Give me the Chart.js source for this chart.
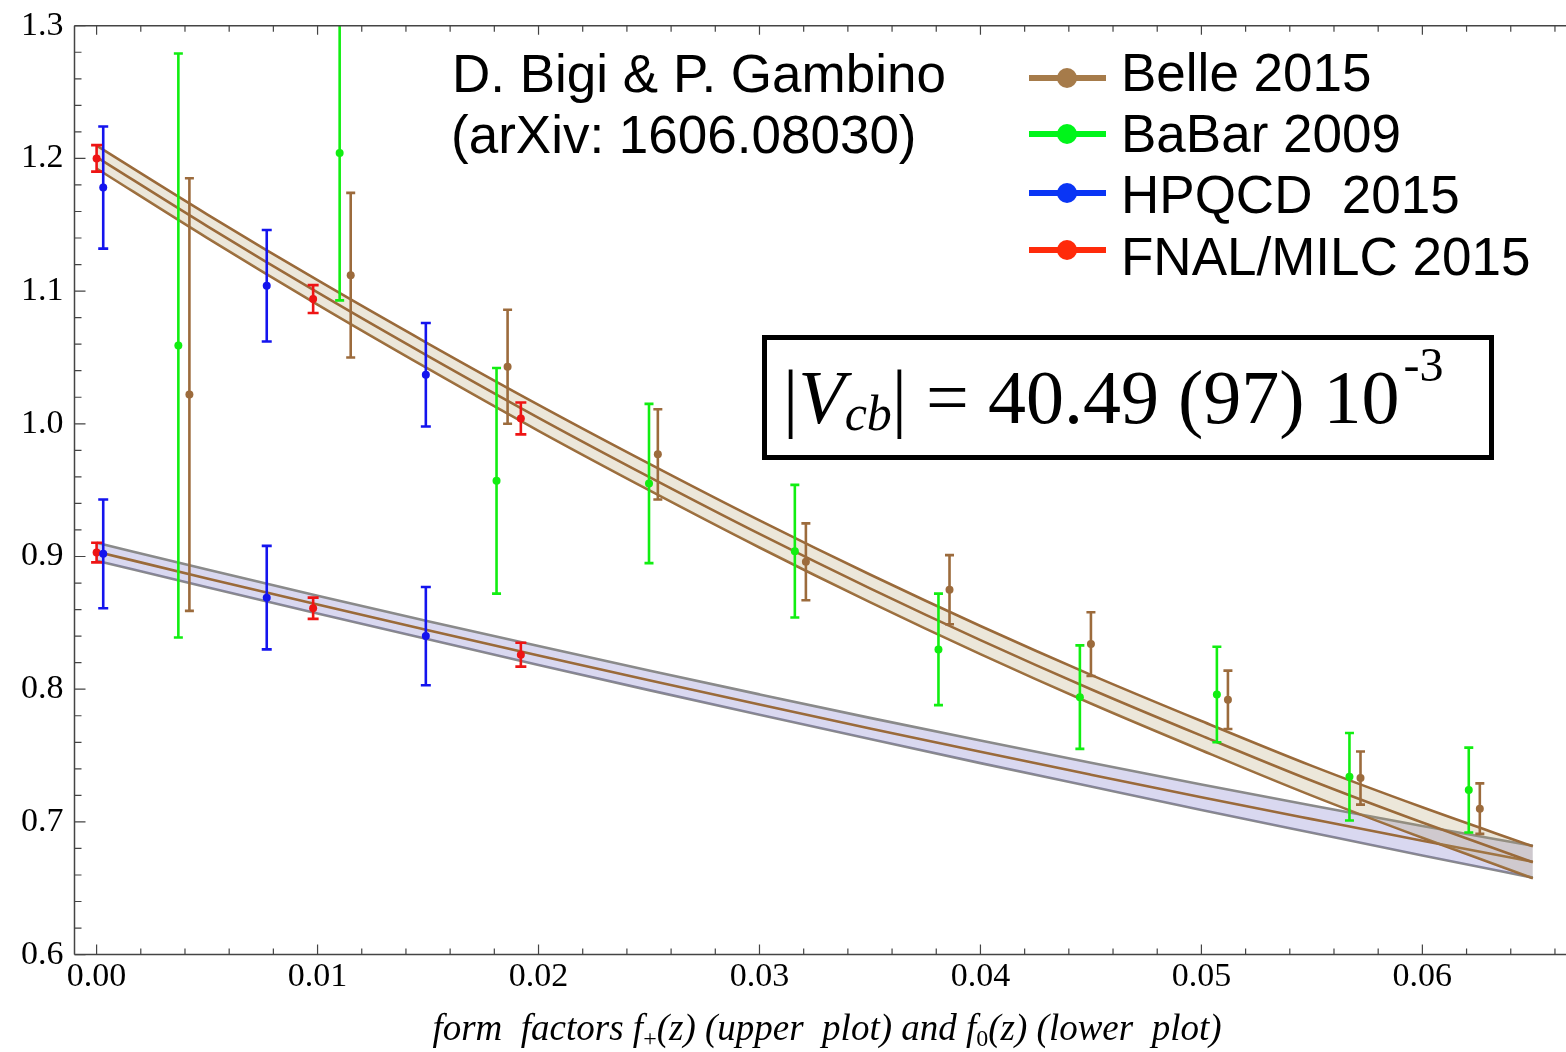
<!DOCTYPE html>
<html>
<head>
<meta charset="utf-8">
<script src="https://cdn.jsdelivr.net/npm/chart.js@4.4.1/dist/chart.umd.min.js"></script>
<style>
  html, body { margin: 0; padding: 0; background: #fff; }
  canvas { display: block; }
</style>
</head>
<body>
<canvas id="chart" width="1566" height="1052"></canvas>
<script>
// fit bands at z = 0 ... 0.065
const bandZ = [0, 0.005, 0.01, 0.015, 0.02, 0.025, 0.03, 0.035, 0.04, 0.045, 0.05, 0.055, 0.06, 0.065];
const fPlusMid = [1.201, 1.149, 1.099, 1.051, 1.0045, 0.960, 0.917, 0.876, 0.837, 0.800, 0.765, 0.731, 0.6995, 0.6696];
const fPlusHi  = [1.2096, 1.1579, 1.1082, 1.0605, 1.0143, 0.9700, 0.9272, 0.8864, 0.8476, 0.8108, 0.7760, 0.7422, 0.7110, 0.6816];
const fPlusLo  = [1.1924, 1.1401, 1.0898, 1.0415, 0.9947, 0.9500, 0.9068, 0.8656, 0.8264, 0.7892, 0.7540, 0.7198, 0.6880, 0.6576];
const fZeroMid = [0.9036, 0.8835, 0.8638, 0.8444, 0.8254, 0.8067, 0.7884, 0.7704, 0.7528, 0.7356, 0.7186, 0.7021, 0.6858, 0.6700];
const fZeroHi  = [0.9104, 0.8902, 0.8705, 0.8512, 0.8325, 0.8141, 0.7961, 0.7784, 0.7613, 0.7446, 0.7282, 0.7124, 0.6969, 0.6820];
const fZeroLo  = [0.8968, 0.8768, 0.8571, 0.8376, 0.8183, 0.7993, 0.7807, 0.7624, 0.7443, 0.7266, 0.7090, 0.6918, 0.6747, 0.6580];

// experimental / lattice points
const belleZ   = [0.0042, 0.0115, 0.0186, 0.0254, 0.0321, 0.0386, 0.0450, 0.0512, 0.0572, 0.0626];
const belleF   = [1.022, 1.112, 1.043, 0.977, 0.896, 0.875, 0.834, 0.792, 0.733, 0.710];
const belleErr = [0.163, 0.062, 0.043, 0.034, 0.029, 0.026, 0.024, 0.022, 0.020, 0.019];

const babarZ   = [0.0037, 0.0110, 0.0181, 0.0250, 0.0316, 0.0381, 0.0445, 0.0507, 0.0567, 0.0621];
const babarF   = [1.059, 1.204, 0.957, 0.955, 0.904, 0.830, 0.794, 0.796, 0.734, 0.724];
const babarErr = [0.220, 0.111, 0.085, 0.060, 0.050, 0.042, 0.039, 0.036, 0.033, 0.032];

const hpqcdZ       = [0.0003, 0.0077, 0.0149];
const hpqcdPlus    = [1.178, 1.104, 1.037];
const hpqcdPlusErr = [0.046, 0.042, 0.039];
const hpqcdZero    = [0.902, 0.869, 0.840];
const hpqcdZeroErr = [0.041, 0.039, 0.037];

const fnalZ       = [0.0000, 0.0098, 0.0192];
const fnalPlus    = [1.200, 1.094, 1.004];
const fnalPlusErr = [0.010, 0.0105, 0.012];
const fnalZero    = [0.903, 0.861, 0.826];
const fnalZeroErr = [0.0074, 0.008, 0.009];

const xTicks = [0, 0.01, 0.02, 0.03, 0.04, 0.05, 0.06];
const yTicks = [0.6, 0.7, 0.8, 0.9, 1.0, 1.1, 1.2, 1.3];

const legendLabels = ['Belle 2015', 'BaBar 2009', 'HPQCD  2015', 'FNAL/MILC 2015'];
const legendColors = ['#a67b4a', '#00f51a', '#0a35f5', '#ff2a0a'];

const BROWN = '#9a6a3a';
const GRAY = '#8a8a8a';
const SERIF = '"Liberation Serif", "Times New Roman", serif';
const SANS = '"Liberation Sans", Arial, sans-serif';

function pts(xs, ys) { return xs.map((x, i) => ({ x: x, y: ys[i] })); }

function bandLine(label, ys, color, order, fill, bg) {
  return {
    label: label, data: pts(bandZ, ys), showLine: true, pointRadius: 0,
    borderColor: color, borderWidth: 2.6, order: order,
    fill: fill || false, backgroundColor: bg || 'transparent',
    cubicInterpolationMode: 'monotone'
  };
}

function pointSet(label, xs, ys, errs, color, cap) {
  return {
    label: label, data: pts(xs, ys), yErr: errs, errCap: cap,
    showLine: false, pointRadius: 4, pointHoverRadius: 4,
    backgroundColor: color, borderColor: color, borderWidth: 0, order: 1
  };
}

// error bars, clipped to the plot frame
const errorBars = {
  id: 'errorBars',
  afterDatasetsDraw(chart) {
    const ctx = chart.ctx, a = chart.chartArea, ys = chart.scales.y;
    ctx.save();
    ctx.beginPath();
    ctx.rect(a.left, a.top, a.right - a.left, a.bottom - a.top);
    ctx.clip();
    chart.data.datasets.forEach((ds, i) => {
      if (!ds.yErr) return;
      const meta = chart.getDatasetMeta(i);
      ctx.strokeStyle = ds.borderColor;
      ctx.lineWidth = 2.6;
      meta.data.forEach((el, j) => {
        const v = ds.data[j].y, e = ds.yErr[j];
        const t = ys.getPixelForValue(v + e), b = ys.getPixelForValue(v - e);
        const w = ds.errCap;
        ctx.beginPath();
        ctx.moveTo(el.x, t); ctx.lineTo(el.x, b);
        ctx.moveTo(el.x - w, t); ctx.lineTo(el.x + w, t);
        ctx.moveTo(el.x - w, b); ctx.lineTo(el.x + w, b);
        ctx.stroke();
      });
    });
    ctx.restore();
  }
};

// frame with inward ticks, legend and labels
const decorations = {
  id: 'decorations',
  afterDraw(chart) {
    const ctx = chart.ctx, a = chart.chartArea;
    const xs = chart.scales.x, ys = chart.scales.y;
    ctx.save();
    ctx.strokeStyle = '#444';
    ctx.lineWidth = 1.5;
    ctx.beginPath();
    ctx.moveTo(a.left, a.top); ctx.lineTo(a.right, a.top);
    ctx.moveTo(a.left, a.top); ctx.lineTo(a.left, a.bottom);
    ctx.moveTo(a.left, a.bottom); ctx.lineTo(a.right, a.bottom);
    ctx.stroke();

    ctx.lineWidth = 1.2;
    ctx.beginPath();
    for (let k = 0; k <= 33; k++) {
      const z = k * 0.002;
      const px = xs.getPixelForValue(z);
      if (px > a.right) break;
      const major = k % 5 === 0;
      const lb = major ? 10 : 6, lt = major ? 9 : 6;
      ctx.moveTo(px, a.bottom); ctx.lineTo(px, a.bottom - lb);
      ctx.moveTo(px, a.top); ctx.lineTo(px, a.top + lt);
    }
    for (let k = 0; k <= 35; k++) {
      const v = 0.6 + k * 0.02;
      const py = ys.getPixelForValue(v);
      const major = k % 5 === 0;
      ctx.moveTo(a.left, py); ctx.lineTo(a.left + (major ? 11 : 7), py);
    }
    ctx.stroke();

    // x axis title with upright subscripts
    const segs = [
      ['form  factors ', 0], ['f', 0], ['+', 1], ['(z) (upper  plot) and ', 0],
      ['f', 0], ['0', 1], ['(z) (lower  plot)', 0]
    ];
    const fontMain = 'italic 37px ' + SERIF, fontSub = '24px ' + SERIF;
    let total = 0;
    segs.forEach(s => { ctx.font = s[1] ? fontSub : fontMain; total += ctx.measureText(s[0]).width; });
    let cx = 827 - total / 2;
    ctx.fillStyle = '#000';
    ctx.textBaseline = 'alphabetic';
    segs.forEach(s => {
      ctx.font = s[1] ? fontSub : fontMain;
      ctx.fillText(s[0], cx, 1040 + (s[1] ? 6 : 0));
      cx += ctx.measureText(s[0]).width;
    });

    // authors
    ctx.font = '53px ' + SANS;
    ctx.fillText('D. Bigi & P. Gambino', 452, 92);
    ctx.fillText('(arXiv: 1606.08030)', 451, 153);

    // legend
    const markY = [78, 134, 193, 250], textY = [91, 152, 213, 275];
    legendLabels.forEach((lab, i) => {
      ctx.strokeStyle = legendColors[i];
      ctx.lineWidth = 6;
      ctx.beginPath();
      ctx.moveTo(1029, markY[i]); ctx.lineTo(1106, markY[i]);
      ctx.stroke();
      ctx.fillStyle = legendColors[i];
      ctx.beginPath();
      ctx.arc(1067, markY[i], 10, 0, Math.PI * 2);
      ctx.fill();
      ctx.fillStyle = '#000';
      ctx.font = '53px ' + SANS;
      ctx.fillText(lab, 1121, textY[i]);
    });

    // |Vcb| box
    ctx.strokeStyle = '#000';
    ctx.lineWidth = 5;
    ctx.strokeRect(764.5, 337.5, 727, 120);
    const base = 423;
    const parts = [
      ['|', '76px ' + SERIF, 0, 0], ['V', 'italic 76px ' + SERIF, 0, 0],
      ['cb', 'italic 50px ' + SERIF, 7, 0], ['| = 40.49 (97) 10', '76px ' + SERIF, 0, 0],
      ['-3', '48px ' + SERIF, -42, 4]
    ];
    let vx = 783;
    parts.forEach(p => {
      ctx.font = p[1];
      vx += p[3];
      ctx.fillText(p[0], vx, base + p[2]);
      vx += ctx.measureText(p[0]).width;
    });
    ctx.restore();
  }
};

new Chart(document.getElementById('chart'), {
  type: 'scatter',
  data: {
    datasets: [
      bandLine('f0 low', fZeroLo, GRAY, 60),
      bandLine('f0 high', fZeroHi, GRAY, 59, '-1', 'rgba(120, 115, 200, 0.28)'),
      bandLine('f0 fit', fZeroMid, BROWN, 58),
      bandLine('f+ low', fPlusLo, BROWN, 50),
      bandLine('f+ high', fPlusHi, BROWN, 49, '-1', 'rgba(175, 155, 100, 0.24)'),
      bandLine('f+ fit', fPlusMid, BROWN, 48),
      pointSet('BaBar 2009', babarZ, babarF, babarErr, '#11ee11', 4.5),
      pointSet('Belle 2015', belleZ, belleF, belleErr, '#9c6b3c', 4.5),
      pointSet('HPQCD f+', hpqcdZ, hpqcdPlus, hpqcdPlusErr, '#1414ee', 5),
      pointSet('HPQCD f0', hpqcdZ, hpqcdZero, hpqcdZeroErr, '#1414ee', 5),
      pointSet('FNAL f+', fnalZ, fnalPlus, fnalPlusErr, '#ee1414', 5.5),
      pointSet('FNAL f0', fnalZ, fnalZero, fnalZeroErr, '#ee1414', 5.5)
    ]
  },
  options: {
    responsive: false,
    animation: false,
    devicePixelRatio: 1,
    layout: { autoPadding: false, padding: { top: 25.7, right: 0, left: 0, bottom: 0 } },
    plugins: {
      legend: { display: false },
      tooltip: { enabled: false }
    },
    scales: {
      x: {
        type: 'linear', min: -0.001, max: 0.0665,
        grid: { display: false, drawTicks: false },
        border: { display: false },
        afterBuildTicks: s => { s.ticks = xTicks.map(v => ({ value: v })); },
        afterFit: s => { s.height = 97.4; s.paddingLeft = 0; s.paddingRight = 0; },
        ticks: {
          color: '#000', padding: 2, maxRotation: 0, autoSkip: false,
          font: { family: SERIF, size: 34 },
          callback: v => v.toFixed(2)
        }
      },
      y: {
        type: 'linear', min: 0.6, max: 1.3,
        grid: { display: false, drawTicks: false },
        border: { display: false },
        afterBuildTicks: s => { s.ticks = yTicks.map(v => ({ value: v })); },
        afterFit: s => { s.width = 74.5; s.paddingTop = 0; s.paddingBottom = 0; },
        ticks: {
          color: '#000', padding: 11, autoSkip: false,
          font: { family: SERIF, size: 34 },
          callback: v => v.toFixed(1)
        }
      }
    }
  },
  plugins: [errorBars, decorations]
});
</script>
</body>
</html>
